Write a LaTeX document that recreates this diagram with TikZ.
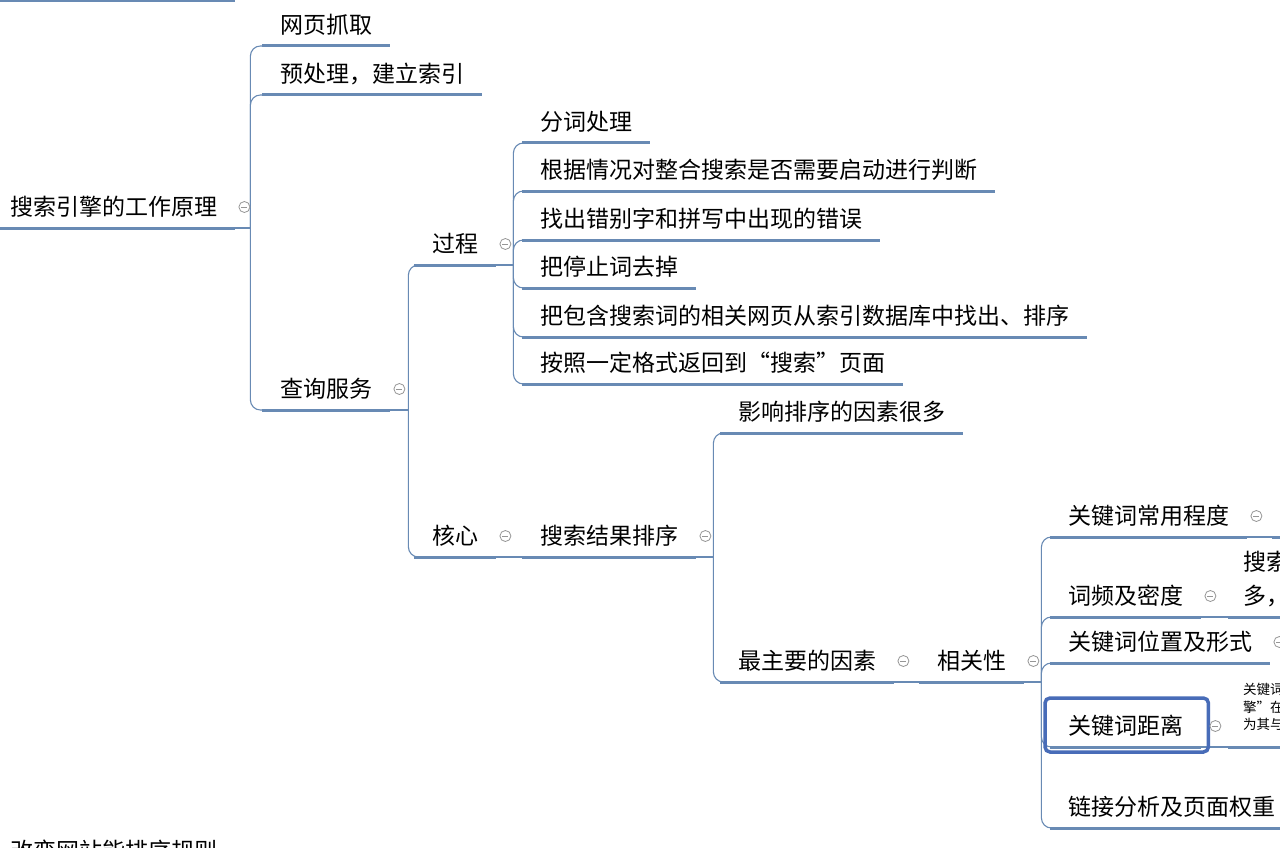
\documentclass[tikz,border=0pt]{standalone}
\usepackage{fontspec}
\setmainfont{Noto Sans CJK SC}
\definecolor{linkblue}{RGB}{104,138,180}
\definecolor{selblue}{RGB}{72,108,184}
\definecolor{foldgray}{RGB}{150,150,150}
\newcommand{\mapfont}{\fontsize{23}{34}\selectfont}
\newcommand{\notefont}{\fontsize{13.5}{17.5}\selectfont}
\tikzset{
  topic/.style={anchor=south west, inner xsep=18pt, inner ysep=12.3pt, text depth=0pt, font=\mapfont, align=left},
  note/.style={font=\notefont, inner xsep=15pt, inner ysep=17pt},
  uline/.style={draw=linkblue, line width=3pt},
  conn/.style={draw=linkblue, line width=1.1pt, rounded corners=10pt},
  fold/.style={circle, draw=foldgray, fill=white, line width=0.8pt, minimum size=11pt, inner sep=0pt,
    path picture={\draw[foldgray, line width=0.8pt] ([xshift=-3pt]path picture bounding box.center) -- ([xshift=3pt]path picture bounding box.center);}},
  selbox/.style={draw=selblue, line width=3.5pt, rounded corners=5pt},
}
\begin{document}
\begin{tikzpicture}[x=1pt, y=-1pt]
    \useasboundingbox (0,0) rectangle (1280,848);
    \clip (0,0) rectangle (1280,848);
    \fill[white] (0,0) rectangle (1280,848);

    % Topic above the root (cut off)
    \draw[uline] (0,1) -- (235,1);

    % Root and first level
    \node[topic] (root) at (-8,228) {搜索引擎的工作原理};
    \node[topic] (crawl) at (262,46) {网页抓取};
    \node[topic] (prep) at (262,95) {预处理，建立索引};
    \node[topic] (query) at (262,410) {查询服务};

    % Query service
    \node[topic] (process) at (414,265) {过程};
    \node[topic] (core) at (414,557) {核心};

    % Process steps
    \node[topic] (p1) at (522,143) {分词处理};
    \node[topic] (p2) at (522,191) {根据情况对整合搜索是否需要启动进行判断};
    \node[topic] (p3) at (522,240) {找出错别字和拼写中出现的错误};
    \node[topic] (p4) at (522,288) {把停止词去掉};
    \node[topic] (p5) at (522,337) {把包含搜索词的相关网页从索引数据库中找出、排序};
    \node[topic] (p6) at (522,384) {按照一定格式返回到“搜索”页面};

    % Core: result ranking
    \node[topic] (rank) at (522,557) {搜索结果排序};
    \node[topic] (many) at (720,433) {影响排序的因素很多};
    \node[topic] (main) at (720,682) {最主要的因素};
    \node[topic] (rel) at (919,682) {相关性};

    % Relevance factors
    \node[topic] (k1) at (1050,537) {关键词常用程度};
    \node[topic] (k2) at (1050,617) {词频及密度};
    \node[topic] (k3) at (1050,663) {关键词位置及形式};
    \node[topic] (k4) at (1050,747) {关键词距离};
    \node[topic] (k5) at (1050,828) {链接分析及页面权重};

    % Details, cut off at the right edge
    \node[topic] (k1c) at (1272,537) {越常用的词对排序的意义越小};
    \node[topic, inner xsep=15pt] (k2c) at (1228,617) {搜索词在页面中出现的次数越\\多，密度越高，相关性越强};
    \node[topic, note] (k4c) at (1228,747) {关键词分词后，如“搜索引\\擎”在页面上连续完整出现，则认\\为其与搜索词的相关性较高};

    % Topic below (cut off)
    \node[topic] (next) at (-8,872) {改变网站能排序规则};

    % Underlines
    \foreach \n in {root,crawl,prep,query,process,core,p1,p2,p3,p4,p5,p6,rank,many,main,rel,k1,k2,k3,k4,k5,k1c,k2c,k4c,next}
        \draw[uline] (\n.south west) -- (\n.south east);

    % Connectors
    \draw[conn] (root.south east) -- ++(15,0) coordinate (j0);
    \foreach \c in {crawl,prep,query} \draw[conn] (j0) |- (\c.south west);
    \draw[conn] (query.south east) -- ++(18,0) coordinate (j1);
    \foreach \c in {process,core} \draw[conn] (j1) |- (\c.south west);
    \draw[conn] (process.south east) -- ++(17,0) coordinate (j2);
    \foreach \c in {p1,p2,p3,p4,p5,p6} \draw[conn] (j2) |- (\c.south west);
    \draw[conn] (core.south east) -- (rank.south west);
    \draw[conn] (rank.south east) -- ++(17,0) coordinate (j3);
    \foreach \c in {many,main} \draw[conn] (j3) |- (\c.south west);
    \draw[conn] (main.south east) -- (rel.south west);
    \draw[conn] (rel.south east) -- ++(17,0) coordinate (j4);
    \foreach \c in {k1,k2,k3,k4,k5} \draw[conn] (j4) |- (\c.south west);
    \draw[conn] (k1.south east) -- (k1c.south west);
    \draw[conn] (k2.south east) -- (k2c.south west);
    \draw[conn] (k4.south east) -- (k4c.south west);

    % Selected topic
    \draw[selbox] ([shift={(-5,5)}]k4.south west) rectangle ([shift={(7,-49)}]k4.south east);

    % Fold markers
    \foreach \n in {root,query,process,core,rank,main,rel,k1,k2,k3}
        \node[fold] (f-\n) at ([shift={(9,-21)}]\n.south east) {};
    \node[fold] (f-k4) at ([shift={(14,-21)}]k4.south east) {};
\end{tikzpicture}
\end{document}
